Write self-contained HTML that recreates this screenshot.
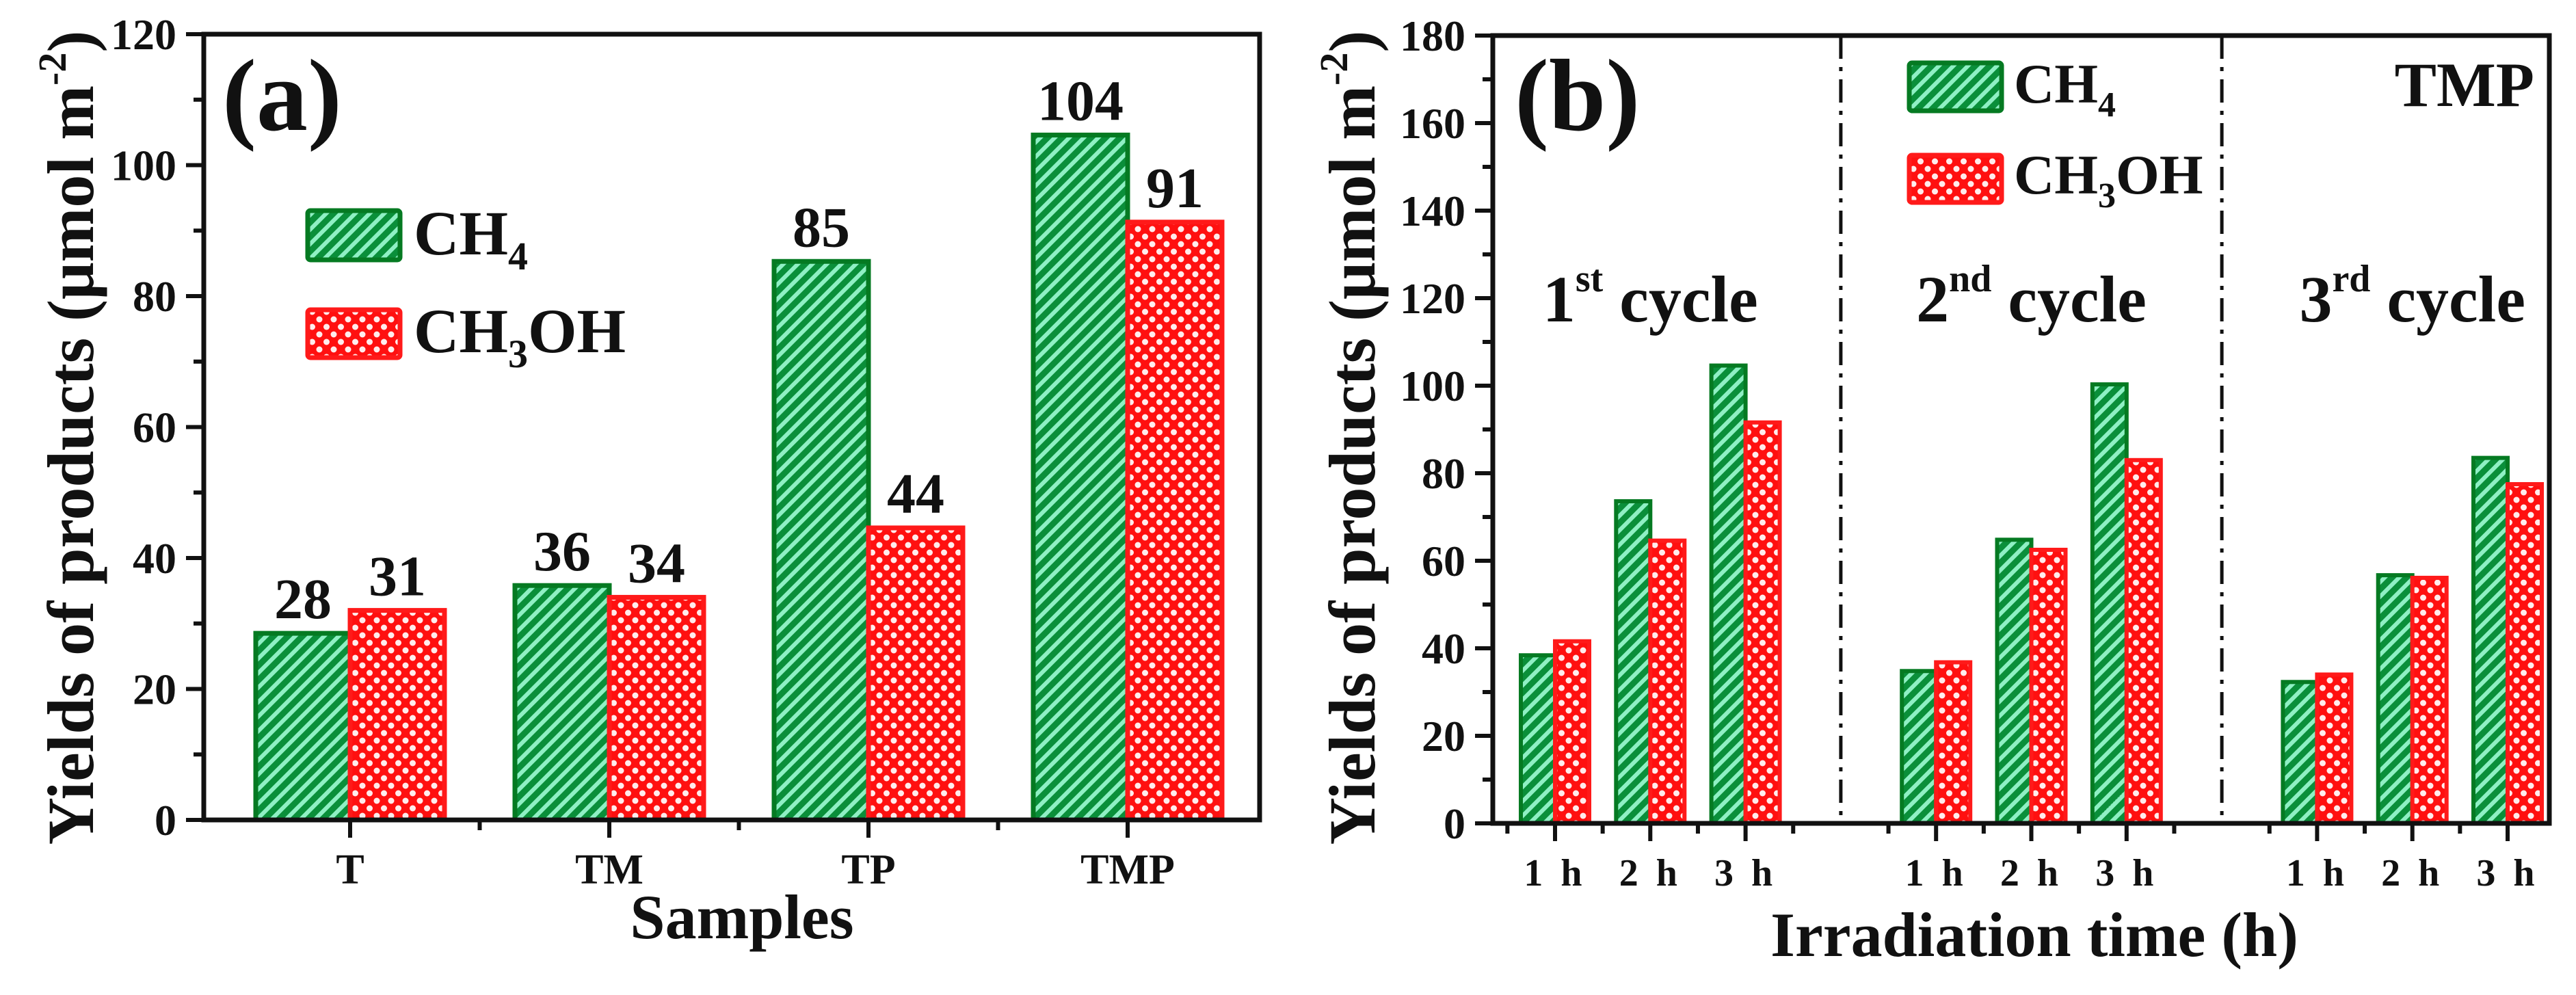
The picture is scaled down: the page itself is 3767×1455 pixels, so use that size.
<!DOCTYPE html>
<html><head><meta charset="utf-8">
<style>
html,body{margin:0;padding:0;background:#fff;}
svg{display:block;}
text{font-family:"Liberation Serif","Times New Roman",serif;font-weight:bold;fill:#111;}
</style></head>
<body>
<svg id="fig" width="3767" height="1455" viewBox="0 0 3767 1455" xmlns="http://www.w3.org/2000/svg">
<defs>
<pattern id="gstripe" patternUnits="userSpaceOnUse" width="15" height="15" patternTransform="rotate(45)">
<rect width="15" height="15" fill="#0a8f3a"/>
<rect x="0" y="0" width="6" height="15" fill="#8ff0c4"/>
</pattern>
<pattern id="rdots" patternUnits="userSpaceOnUse" width="21" height="22">
<rect width="21" height="22" fill="#ff1010"/>
<circle cx="5" cy="5" r="4.5" fill="#ffecec"/>
<circle cx="15.5" cy="16" r="4.5" fill="#ffecec"/>
</pattern>
</defs>
<g id="panelA"></g>
<g id="panelB"></g>
</svg>
<script>
// Panel (a) data
const aCategories = ["T","TM","TP","TMP"];
const aCH4 = [28.5, 35.8, 85.3, 104.6];
const aCH3OH = [32, 34, 44.6, 91.3];
const aCH4Labels = ["28","36","85","104"];
const aCH3OHLabels = ["31","34","44","91"];
const aYTicks = [0,20,40,60,80,100,120];
// Panel (b) data
const bTimeLabels = ["1 h","2 h","3 h","1 h","2 h","3 h","1 h","2 h","3 h"];
const bSlots = [1,2,3,5,6,7,9,10,11];
const bCH4 = [38.4, 73.6, 104.6, 34.8, 64.8, 100.3, 32.3, 56.7, 83.5];
const bCH3OH = [41.6, 64.6, 91.6, 36.8, 62.5, 83, 34, 56.1, 77.5];
const bYTicks = [0,20,40,60,80,100,120,140,160,180];
const bDividers = [4, 8];
const bCycles = [{n:"1",s:"st",pos:2},{n:"2",s:"nd",pos:6},{n:"3",s:"rd",pos:10}];

const NS = "http://www.w3.org/2000/svg";
function mk(parent, tag, attrs){
  const e = document.createElementNS(NS, tag);
  for (const k in attrs) e.setAttribute(k, attrs[k]);
  parent.appendChild(e);
  return e;
}

// ---------- Panel A ----------
(function(){
  const g = document.getElementById('panelA');
  const L=298, R=1842, T=50, B=1199, yMax=120;
  const y = v => B - v/yMax*(B-T);
  const x = i => 512 + 379*i;
  const bw = 138;
  // bars
  aCategories.forEach((c,i)=>{
    const g1 = mk(g,'rect',{x:x(i)-bw, y:y(aCH4[i]), width:bw, height:B-y(aCH4[i]), fill:'url(#gstripe)', stroke:'#057a22', 'stroke-width':7});
    
    
    const r1 = mk(g,'rect',{x:x(i), y:y(aCH3OH[i]), width:bw, height:B-y(aCH3OH[i]), fill:'url(#rdots)', stroke:'#ff1a1a', 'stroke-width':7});
    
    
    const t1 = mk(g,'text',{x:x(i)-bw/2, y:y(aCH4[i])-22, 'font-size':84, 'text-anchor':'middle'});
    t1.textContent = aCH4Labels[i];
    
    
    const t2 = mk(g,'text',{x:x(i)+bw/2, y:y(aCH3OH[i])-22, 'font-size':84, 'text-anchor':'middle'});
    t2.textContent = aCH3OHLabels[i];
    
    
    const tk = mk(g,'line',{x1:x(i), x2:x(i), y1:B, y2:B+26, stroke:'#111','stroke-width':6});
    
    
    const tl = mk(g,'text',{x:x(i), y:1292, 'font-size':62, 'text-anchor':'middle'});
    tl.textContent = c;
    
    
    if (i < aCategories.length-1){
      const mt = mk(g,'line',{x1:x(i+0.5), x2:x(i+0.5), y1:B, y2:B+15, stroke:'#111','stroke-width':6});
      
      
    }
  });
  // frame
  const fr = mk(g,'rect',{x:L, y:T, width:R-L, height:B-T, fill:'none', stroke:'#111', 'stroke-width':7});
  
  
  aYTicks.forEach(v=>{
    const tk = mk(g,'line',{x1:L-26, x2:L, y1:y(v), y2:y(v), stroke:'#111','stroke-width':6});
    
    
    const tl = mk(g,'text',{x:L-40, y:y(v)+22, 'font-size':64, 'text-anchor':'end'});
    tl.textContent = v;
    
    
    if (v < yMax){
      const mt = mk(g,'line',{x1:L-15, x2:L, y1:y(v+10), y2:y(v+10), stroke:'#111','stroke-width':6});
      
      
    }
  });
  const pl = mk(g,'text',{x:325, y:190, 'font-size':150});
  pl.textContent='(a)';
  
  
  // legend
  const lg = mk(g,'g',{});
  
  
  const lb1 = mk(lg,'rect',{x:450,y:308,width:135,height:72,fill:'url(#gstripe)',stroke:'#057a22','stroke-width':7,rx:4});
  
  
  const lt1 = mk(lg,'text',{x:605,y:372,'font-size':92});
  lt1.innerHTML='CH<tspan font-size="58" dy="22">4</tspan>';
  
  
  const lb2 = mk(lg,'rect',{x:450,y:453,width:135,height:70,fill:'url(#rdots)',stroke:'#ff1a1a','stroke-width':7,rx:4});
  
  
  const lt2 = mk(lg,'text',{x:605,y:515,'font-size':92});
  lt2.innerHTML='CH<tspan font-size="58" dy="22">3</tspan><tspan dy="-22">OH</tspan>';
  
  
  // axis titles
  const xt = mk(g,'text',{x:1085,y:1372,'font-size':92,'text-anchor':'middle'});
  xt.textContent='Samples';
  
  
  const yt = mk(g,'text',{x:0,y:0,'font-size':96,'text-anchor':'middle',transform:'translate(136,640) rotate(-90)'});
  yt.innerHTML='Yields of products (μmol m<tspan font-size="58" dy="-40">-2</tspan><tspan dy="40">)</tspan>';
  
  
})();

// ---------- Panel B ----------
(function(){
  const g = document.getElementById('panelB');
  const L=2183, R=3728, T=52, B=1204, yMax=180;
  const y = v => B - v/yMax*(B-T);
  const x = s => 2274 + (s-1)*139.3;
  const bw = 50;
  bSlots.forEach((s,i)=>{
    const g1 = mk(g,'rect',{x:x(s)-bw, y:y(bCH4[i]), width:bw, height:B-y(bCH4[i]), fill:'url(#gstripe)', stroke:'#057a22','stroke-width':6});
    
    
    const r1 = mk(g,'rect',{x:x(s), y:y(bCH3OH[i]), width:bw, height:B-y(bCH3OH[i]), fill:'url(#rdots)', stroke:'#ff1a1a','stroke-width':6});
    
    
    const tk = mk(g,'line',{x1:x(s), x2:x(s), y1:B, y2:B+26, stroke:'#111','stroke-width':6});
    
    
    const tl = mk(g,'text',{x:x(s), y:1295, 'font-size':56, 'text-anchor':'middle','letter-spacing':'6'});
    tl.textContent = bTimeLabels[i];
    
    
  });
  for (let s=0.5; s<11.4; s+=1){
    const mt = mk(g,'line',{x1:x(s), x2:x(s), y1:B, y2:B+15, stroke:'#111','stroke-width':6});
    
    
  }
  bDividers.forEach(d=>{
    const dl = mk(g,'line',{x1:x(d), x2:x(d), y1:T, y2:B, stroke:'#111','stroke-width':5,'stroke-dasharray':'34 12 6 12'});
    
    
  });
  const fr = mk(g,'rect',{x:L, y:T, width:R-L, height:B-T, fill:'none', stroke:'#111','stroke-width':7});
  
  
  bYTicks.forEach(v=>{
    const tk = mk(g,'line',{x1:L-26, x2:L, y1:y(v), y2:y(v), stroke:'#111','stroke-width':6});
    
    
    const tl = mk(g,'text',{x:L-40, y:y(v)+22, 'font-size':64, 'text-anchor':'end'});
    tl.textContent = v;
    
    
    if (v < yMax){
      const mt = mk(g,'line',{x1:L-15, x2:L, y1:y(v+10), y2:y(v+10), stroke:'#111','stroke-width':6});
      
      
    }
  });
  bCycles.forEach(c=>{
    const ct = mk(g,'text',{x:x(c.pos), y:470, 'font-size':96, 'text-anchor':'middle'});
    ct.innerHTML = c.n+'<tspan font-size="56" dy="-44">'+c.s+'</tspan><tspan dy="44"> cycle</tspan>';
    
    
  });
  const pl = mk(g,'text',{x:2215, y:190, 'font-size':150});
  pl.textContent='(b)';
  
  
  const tmp = mk(g,'text',{x:3706, y:155, 'font-size':92,'text-anchor':'end'});
  tmp.textContent='TMP';
  
  
  const lg = mk(g,'g',{});
  
  
  const lb1 = mk(lg,'rect',{x:2792,y:92,width:135,height:70,fill:'url(#gstripe)',stroke:'#057a22','stroke-width':7,rx:4});
  
  
  const lt1 = mk(lg,'text',{x:2945,y:150,'font-size':82});
  lt1.innerHTML='CH<tspan font-size="52" dy="20">4</tspan>';
  
  
  const lb2 = mk(lg,'rect',{x:2792,y:227,width:135,height:69,fill:'url(#rdots)',stroke:'#ff1a1a','stroke-width':7,rx:4});
  
  
  const lt2 = mk(lg,'text',{x:2945,y:283,'font-size':82});
  lt2.innerHTML='CH<tspan font-size="52" dy="20">3</tspan><tspan dy="-20">OH</tspan>';
  
  
  const xt = mk(g,'text',{x:2975,y:1398,'font-size':92,'text-anchor':'middle'});
  xt.textContent='Irradiation time (h)';
  
  
  const yt = mk(g,'text',{x:0,y:0,'font-size':96,'text-anchor':'middle',transform:'translate(2010,640) rotate(-90)'});
  yt.innerHTML='Yields of products (μmol m<tspan font-size="58" dy="-40">-2</tspan><tspan dy="40">)</tspan>';
  
  
})();
</script>
</body></html>
